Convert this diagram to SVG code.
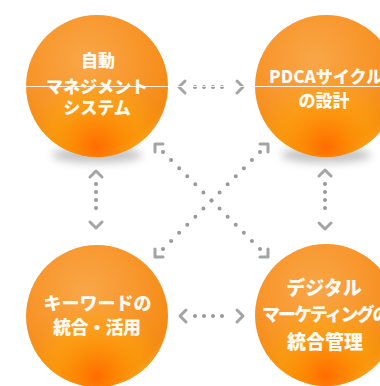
<svg xmlns="http://www.w3.org/2000/svg" width="380" height="386" viewBox="0 0 380 386">
<defs>
<radialGradient id="base" cx="0.42" cy="0.32" r="0.7">
<stop offset="0" stop-color="#f9a648"/>
<stop offset="0.55" stop-color="#f8962b"/>
<stop offset="0.9" stop-color="#f48a12"/>
<stop offset="1" stop-color="#f59a34"/>
</radialGradient>
<radialGradient id="glow" cx="0.5" cy="0.9" r="0.5" fx="0.5" fy="0.93">
<stop offset="0" stop-color="#ff6a00" stop-opacity="0.95"/>
<stop offset="0.3" stop-color="#ff8600" stop-opacity="0.8"/>
<stop offset="0.65" stop-color="#ffa500" stop-opacity="0.45"/>
<stop offset="1" stop-color="#ffa500" stop-opacity="0"/>
</radialGradient>
<filter id="blur" x="-50%" y="-100%" width="200%" height="300%">
<feGaussianBlur stdDeviation="4"/>
</filter>
<style>
.sh{fill:#8a8a8a;opacity:0.5;filter:url(#blur)}
.ball{fill:url(#base)}
.gl{fill:url(#glow)}
.t{fill:#fffaf2;font-family:"Noto Sans CJK JP","Noto Sans",sans-serif;font-weight:900;text-anchor:middle}
.dots{fill:none;stroke:#999;stroke-width:4;stroke-linecap:round}
.head{fill:none;stroke:#a4a4a4;stroke-width:3;stroke-linecap:round;stroke-linejoin:round}
</style>
</defs>
<rect width="380" height="386" fill="#fff"/>

<g id="node-auto">
<ellipse class="sh" cx="97" cy="155" rx="45" ry="8"/>
<circle class="ball" cx="97" cy="86" r="71"/>
<circle class="gl" cx="97" cy="86" r="71"/>
<text class="t" font-size="17"><tspan x="98" y="67">自動</tspan><tspan x="97" y="92.5">マネジメント</tspan><tspan x="97" y="114">システム</tspan></text>
</g>

<g id="node-pdca">
<ellipse class="sh" cx="326" cy="155" rx="45" ry="8"/>
<circle class="ball" cx="326" cy="86" r="71"/>
<circle class="gl" cx="326" cy="86" r="71"/>
<text class="t" font-size="17"><tspan x="326" y="83">PDCAサイクル</tspan><tspan x="324" y="107">の設計</tspan></text>
</g>

<g id="node-keyword">
<circle class="ball" cx="97" cy="316" r="71"/>
<circle class="gl" cx="97" cy="316" r="71"/>
<text class="t" font-size="18" x="97.5" y="309.5">キーワードの</text>
<text class="t" font-size="18" x="97" y="334" textLength="88" lengthAdjust="spacing">統合・活用</text>
</g>

<g id="node-digital">
<circle class="ball" cx="326" cy="315" r="71"/>
<circle class="gl" cx="326" cy="315" r="71"/>
<text class="t" font-size="19"><tspan x="324" y="294.5">デジタル</tspan></text>
<text class="t" font-size="18" letter-spacing="-2" style="text-anchor:start" x="262" y="321">マーケティングの</text>
<text class="t" font-size="19"><tspan x="325" y="348.5">統合管理</tspan></text>
</g>

<g id="connectors">
<line class="dots" x1="195" y1="87" x2="231" y2="87" stroke-dasharray="0 9"/>
<polyline class="head" points="185,81 179,87 185,93"/>
<polyline class="head" points="237,81 243,87 237,93"/>

<line class="dots" x1="195" y1="316" x2="231" y2="316" stroke-dasharray="0 9"/>
<polyline class="head" points="186,310 180,316 186,322"/>
<polyline class="head" points="237,310 243,316 237,322"/>

<line class="dots" x1="96" y1="184" x2="96" y2="216" stroke-dasharray="0 8"/>
<polyline class="head" points="90,177 96,171 102,177"/>
<polyline class="head" points="90,222 96,228 102,222"/>

<line class="dots" x1="325" y1="184" x2="325" y2="216" stroke-dasharray="0 8"/>
<polyline class="head" points="319,176 325,170 331,176"/>
<polyline class="head" points="319,223 325,229 331,223"/>

<line class="dots" x1="163" y1="152" x2="260" y2="249" stroke-dasharray="0 11.43"/>
<line class="dots" x1="260" y1="152" x2="163" y2="249" stroke-dasharray="0 11.43"/>
<polyline class="head" points="163,144 155,144 155,152"/>
<polyline class="head" points="260,144 268,144 268,152"/>
<polyline class="head" points="155,249 155,257 163,257"/>
<polyline class="head" points="268,249 268,257 260,257"/>
</g>

<line x1="0" y1="86.5" x2="380" y2="86.5" stroke="#fff" stroke-width="1" opacity="0.85"/>
</svg>
